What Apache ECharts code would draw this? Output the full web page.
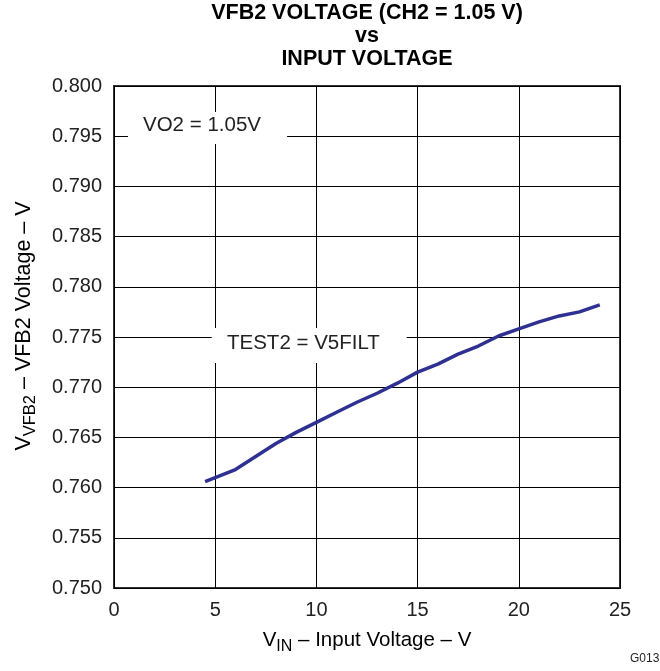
<!DOCTYPE html>
<html>
<head>
<meta charset="utf-8">
<script src="https://cdn.jsdelivr.net/npm/echarts@6/dist/echarts.min.js"></script>
<style>
  html, body { margin: 0; padding: 0; background: #fff; }
  #myChart { width: 660px; height: 671px; }
</style>
</head>
<body>
<div id="myChart"></div>
<script>
// values
var vin = [4.5, 6, 7, 8, 9, 10, 11, 12, 13, 14, 15, 16, 17, 18, 19, 20, 21, 22, 23, 24]
var vfb2 = [0.7606, 0.7618, 0.7631, 0.7644, 0.7655, 0.7665, 0.7675, 0.7685, 0.7694, 0.7704,
  0.7715, 0.7723, 0.7733, 0.7741, 0.7751, 0.7758, 0.7765, 0.7771, 0.7775, 0.7782]
var xTicks = [0, 5, 10, 15, 20, 25]
var yTicks = [0.750, 0.755, 0.760, 0.765, 0.770, 0.775, 0.780, 0.785, 0.790, 0.795, 0.800]

var font = '"Liberation Sans", Arial, sans-serif'
var myChart = echarts.init(document.getElementById('myChart'))

var points = vin.map(function (v, i) { return [v, vfb2[i]] })

var nameRich = {
  v: { fontFamily: font, fontSize: 20.5, color: '#222', verticalAlign: 'top' },
  s: { fontFamily: font, fontSize: 16, color: '#222', verticalAlign: 'top', padding: [9, 0, 0, 0] }
}
var yNameRich = {
  v: { fontFamily: font, fontSize: 21.5, color: '#222', verticalAlign: 'top' },
  s: { fontFamily: font, fontSize: 16.5, color: '#222', verticalAlign: 'top', padding: [9, 0, 0, 0] }
}

// white boxes behind the notes, placed in data units
function noteBox (x0, y0, x1, y1) {
  var a = myChart.convertToPixel('grid', [x0, y0])
  var b = myChart.convertToPixel('grid', [x1, y1])
  return {
    type: 'rect',
    z: 50,
    shape: { x: a[0], y: b[1], width: b[0] - a[0], height: a[1] - b[1] },
    style: { fill: '#fff' }
  }
}

var option = {
  backgroundColor: '#fff',
  animation: false,
  title: {
    text: 'VFB2 VOLTAGE (CH2 = 1.05 V)\nvs\nINPUT VOLTAGE',
    left: 367,
    textAlign: 'center',
    top: 1.5,
    padding: 0,
    textStyle: {
      fontFamily: font,
      fontWeight: 'bold',
      fontSize: 21.5,
      lineHeight: 23,
      color: '#000'
    }
  },
  grid: {
    left: 114,
    right: 40,
    top: 86,
    bottom: 83,
    show: true,
    borderColor: '#333',
    borderWidth: 2
  },
  xAxis: {
    type: 'value',
    min: 0,
    max: 25,
    interval: 5,
    axisLine: { show: false },
    axisTick: { show: false },
    axisLabel: {
      margin: 12,
      fontFamily: font,
      fontSize: 20,
      color: '#222',
      formatter: function (v) { return xTicks.indexOf(v) >= 0 ? String(v) : '' }
    },
    splitLine: { show: true, lineStyle: { color: '#000', width: 1 } }
  },
  yAxis: {
    type: 'value',
    min: 0.750,
    max: 0.800,
    interval: 0.005,
    axisLine: { show: false },
    axisTick: { show: false },
    axisLabel: {
      margin: 12,
      fontFamily: font,
      fontSize: 20,
      color: '#222',
      formatter: function (v) {
        var t = yTicks.filter(function (y) { return Math.abs(y - v) < 1e-6 })
        return t.length ? t[0].toFixed(3) : ''
      }
    },
    splitLine: { show: true, lineStyle: { color: '#000', width: 1 } }
  },
  series: [{
    type: 'line',
    data: points,
    symbol: 'none',
    smooth: false,
    z: 60,
    lineStyle: { color: '#2e3192', width: 3.5 }
  }]
}
myChart.setOption(option)

// notes and axis names drawn after the grid exists so they can use its scale
myChart.setOption({
  graphic: [
    noteBox(0.69, 0.79422, 8.55, 0.79741),
    noteBox(4.83, 0.77241, 14.46, 0.77590),
    {
      type: 'text',
      z: 51,
      left: 143,
      top: 115,
      style: { text: 'VO2 = 1.05V', fontFamily: font, fontSize: 20.5, fill: '#222' }
    },
    {
      type: 'text',
      z: 51,
      left: 227,
      top: 333,
      style: { text: 'TEST2 = V5FILT', fontFamily: font, fontSize: 20.5, fill: '#222' }
    },
    {
      type: 'text',
      x: 367,
      y: 630,
      style: {
        text: '{v|V}{s|IN}{v| – Input Voltage – V}',
        rich: nameRich,
        align: 'center',
        verticalAlign: 'top'
      }
    },
    {
      type: 'text',
      x: 13,
      y: 326,
      rotation: Math.PI / 2,
      style: {
        text: '{v|V}{s|VFB2}{v| – VFB2 Voltage – V}',
        rich: yNameRich,
        align: 'center',
        verticalAlign: 'top'
      }
    },
    {
      type: 'text',
      left: 630,
      top: 653,
      style: { text: 'G013', fontFamily: font, fontSize: 12, fill: '#222' }
    }
  ]
})
</script>
</body>
</html>
